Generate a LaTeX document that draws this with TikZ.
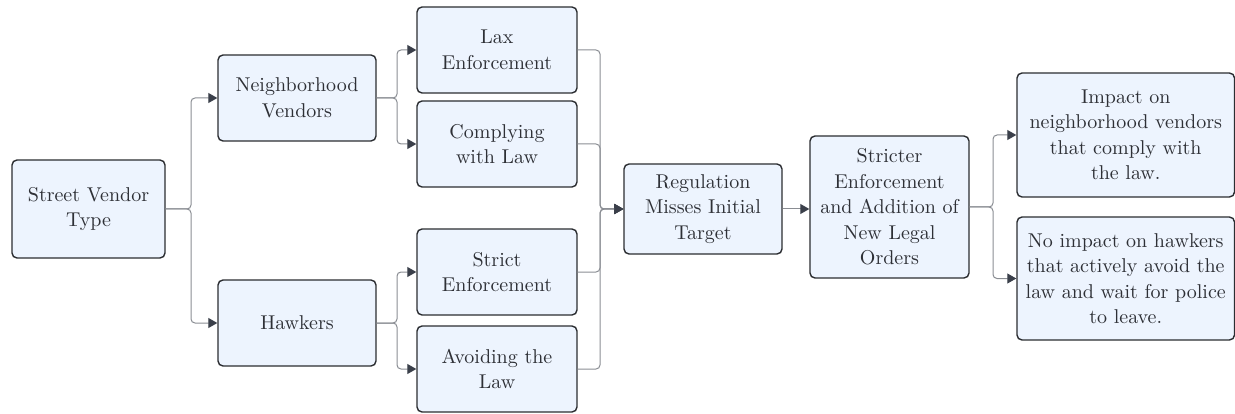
\documentclass[tikz,border=0pt]{standalone}
\usepackage{fontspec}
\setmainfont{lmroman10-regular}[Extension=.otf]
\usetikzlibrary{arrows.meta}
\definecolor{boxfill}{HTML}{EDF4FE}
\definecolor{boxline}{HTML}{2B2D31}
\definecolor{wire}{HTML}{8A8D93}
\definecolor{tip}{HTML}{3A3F4A}
\definecolor{ink}{HTML}{2E3036}
\tikzset{
  flowbox/.style={draw=boxline, line width=1.4pt, fill=boxfill, rounded corners=5pt,
    align=center, inner sep=2pt, text=ink,
    font=\fontsize{20}{25.5}\selectfont},
  link/.style={draw=wire, line width=1pt, rounded corners=4pt,
    -{Triangle[length=9pt,width=10pt,color=tip]}},
}
\begin{document}
\begin{tikzpicture}[x=1pt,y=1pt]
\useasboundingbox (0,0) rectangle (1235,413);
% stage 1
\node[flowbox, minimum width=153pt, minimum height=98pt] (svt) at (88.5,204) {Street Vendor\\Type};
% stage 2
\node[flowbox, minimum width=158pt, minimum height=86pt] (nv) at (297,315) {Neighborhood\\Vendors};
\node[flowbox, minimum width=158pt, minimum height=86pt] (hk) at (297,90) {Hawkers};
% stage 3
\node[flowbox, minimum width=160pt, minimum height=86pt] (lax) at (497,363) {Lax\\Enforcement};
\node[flowbox, minimum width=160pt, minimum height=86pt] (comp) at (497,269) {Complying\\with Law};
\node[flowbox, minimum width=160pt, minimum height=86pt] (strict) at (497,141) {Strict\\Enforcement};
\node[flowbox, minimum width=160pt, minimum height=86pt] (avoid) at (497,44) {Avoiding the\\Law};
% stage 4
\node[flowbox, minimum width=158pt, minimum height=90pt] (reg) at (703,204) {Regulation\\Misses Initial\\Target};
% stage 5
\node[flowbox, minimum width=159pt, minimum height=142pt] (stricter) at (889.5,206) {Stricter\\Enforcement\\and Addition of\\New Legal\\Orders};
% stage 6
\node[flowbox, minimum width=217.5pt, minimum height=124pt] (imp) at (1125.75,278) {Impact on\\neighborhood vendors\\that comply with\\the law.};
\node[flowbox, minimum width=217.5pt, minimum height=123pt] (noimp) at (1125.75,134.5) {No impact on hawkers\\that actively avoid the\\law and wait for police\\to leave.};
% junction columns
\coordinate (j1) at (191,0);
\coordinate (j2) at (397,0);
\coordinate (j3) at (600,0);
\coordinate (j5) at (993,0);
% connectors
\draw[link] (svt.east) -- (j1 |- svt.east) -- (j1 |- nv.west) -- (nv.west);
\draw[link] (svt.east) -- (j1 |- svt.east) -- (j1 |- hk.west) -- (hk.west);
\draw[link] (nv.east) -- (j2 |- nv.east) -- (j2 |- lax.west) -- (lax.west);
\draw[link] (nv.east) -- (j2 |- nv.east) -- (j2 |- comp.west) -- (comp.west);
\draw[link] (hk.east) -- (j2 |- hk.east) -- (j2 |- strict.west) -- (strict.west);
\draw[link] (hk.east) -- (j2 |- hk.east) -- (j2 |- avoid.west) -- (avoid.west);
\draw[link] (lax.east) -- (j3 |- lax.east) -- (j3 |- reg.west) -- (reg.west);
\draw[link] (comp.east) -- (j3 |- comp.east) -- (j3 |- reg.west) -- (reg.west);
\draw[link] (strict.east) -- (j3 |- strict.east) -- (j3 |- reg.west) -- (reg.west);
\draw[link] (avoid.east) -- (j3 |- avoid.east) -- (j3 |- reg.west) -- (reg.west);
\draw[link] (reg.east) -- (reg.east -| stricter.west);
\draw[link] (stricter.east) -- (j5 |- stricter.east) -- (j5 |- imp.west) -- (imp.west);
\draw[link] (stricter.east) -- (j5 |- stricter.east) -- (j5 |- noimp.west) -- (noimp.west);
\end{tikzpicture}
\end{document}
